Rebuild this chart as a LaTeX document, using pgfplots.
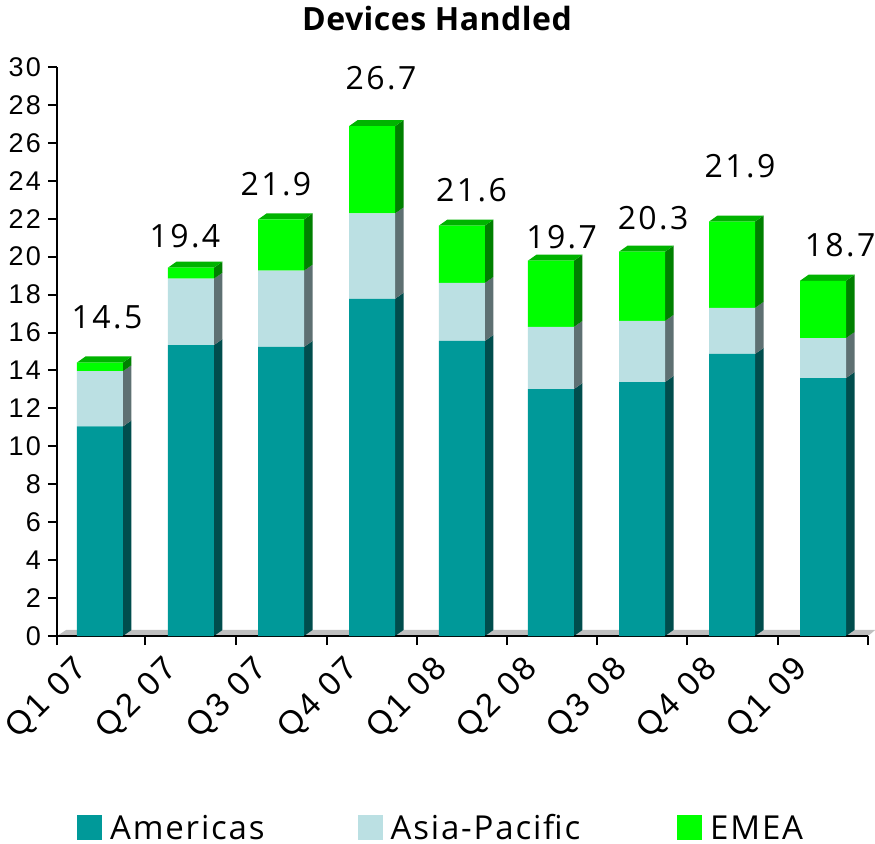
\documentclass[border=0pt]{standalone}
\usepackage{pgfplots}
\usepackage{pgfplotstable}
\usepackage{fontspec}
\pgfplotsset{compat=1.18}
\setmainfont[LetterSpace=8]{Liberation Sans}
\newfontfamily\lab[LetterSpace=7.5]{Open Sans}
\newfontfamily\ttl[LetterSpace=1.5]{Open Sans}
\newfontfamily\leg[LetterSpace=5.5]{Open Sans}
\definecolor{amf}{HTML}{009999}\definecolor{ams}{HTML}{004D4D}
\definecolor{apf}{HTML}{BBE0E3}\definecolor{aps}{HTML}{5E7072}
\definecolor{emf}{HTML}{00FF00}\definecolor{ems}{HTML}{008000}\definecolor{emt}{HTML}{00B300}
\tikzset{dl/.style={font=\lab\fontsize{32bp}{32bp}\selectfont}}
\pgfplotstableread{
x     am    ap   em
0.477 11.05 2.91 0.46
1.487 15.34 3.50 0.58
2.486 15.24 4.02 2.70
3.496 17.78 4.50 4.60
4.494 15.56 3.06 3.02
5.482 13.02 3.28 3.49
6.492 13.39 3.22 3.65
7.491 14.87 2.43 4.55
8.501 13.60 2.11 3.02
}\devices
\pgfplotsset{base/.style={
  at={(57bp,-636bp)},anchor=south west,scale only axis,
  width=811bp,height=569bp,xmin=0,xmax=9,ymin=0,ymax=30,clip=false},
  swatch/.style={legend image code/.code={\fill[##1,draw=none] (0bp,-12.5bp) rectangle (25bp,12.5bp);}}}
% side face of a segment: centre, low, high, colour
\newcommand\sideface[4]{%
  \pgfmathsetmacro\xr{#1+0.2553}\pgfmathsetmacro\xd{#1+0.2553+0.0943}%
  \pgfmathsetmacro\yl{#2+0.317}\pgfmathsetmacro\yh{#3+0.317}%
  \addplot[fill=#4,draw=none] coordinates {(\xr,#2)(\xd,\yl)(\xd,\yh)(\xr,#3)} --cycle;}
\newcommand\topface[3]{%
  \pgfmathsetmacro\xl{#1-0.2553}\pgfmathsetmacro\xr{#1+0.2553}%
  \pgfmathsetmacro\xe{#1-0.2553+0.0943}\pgfmathsetmacro\xd{#1+0.2553+0.0943}%
  \pgfmathsetmacro\yh{#2+0.317}%
  \addplot[fill=#3,draw=none] coordinates {(\xl,#2)(\xe,\yh)(\xd,\yh)(\xr,#2)} --cycle;}
\newcommand\barfaces[4]{\sideface{#1}{0}{#2}{ams}\sideface{#1}{#2}{#3}{aps}\sideface{#1}{#3}{#4}{ems}\topface{#1}{#4}{emt}}
\begin{document}
\begin{tikzpicture}
\path[use as bounding box] (0,0) rectangle (875bp,-844bp);
\begin{axis}[base,hide axis]
\addplot[fill=black!25,draw=none] coordinates {(0,0)(0.1,0.317)(9.08,0.317)(9,0)} --cycle;
\barfaces{0.477}{11.05}{13.96}{14.42}
\barfaces{1.487}{15.34}{18.84}{19.42}
\barfaces{2.486}{15.24}{19.26}{21.96}
\barfaces{3.496}{17.78}{22.28}{26.88}
\barfaces{4.494}{15.56}{18.62}{21.64}
\barfaces{5.482}{13.02}{16.30}{19.79}
\barfaces{6.492}{13.39}{16.61}{20.26}
\barfaces{7.491}{14.87}{17.30}{21.85}
\barfaces{8.501}{13.60}{15.71}{18.73}
\end{axis}
\begin{axis}[base,
  ybar stacked,bar width=46bp,
  axis lines=left,axis line style={-,line width=2bp,black},
  tick style={line width=2bp,black},
  major tick length=9bp,
  tick align=outside,
  xtick={0,0.976,1.981,2.991,3.99,4.994,5.993,6.992,8.0,9},
  xticklabels={},
  extra x ticks={0.25,1.25,2.25,3.26,4.25,5.25,6.25,7.25,8.25},
  extra x tick labels={Q1 07,Q2 07,Q3 07,Q4 07,Q1 08,Q2 08,Q3 08,Q4 08,Q1 09},
  extra x tick style={major tick length=0pt,
    tick label style={rotate=45,anchor=north east,inner sep=0pt,yshift=-7bp,xshift=-18bp,font=\fontsize{33bp}{33bp}\selectfont}},
  ytick={0,2,...,30},
  yticklabel style={font=\fontsize{27bp}{27bp}\selectfont,inner sep=0pt,xshift=-7bp},
  /pgf/number format/assume math mode=true,
  legend columns=3,
  legend style={at={(0.0247,-0.31)},anchor=north west,draw=none,fill=none,inner sep=0pt,
    font=\leg\fontsize{33bp}{33bp}\selectfont,
    /tikz/column 1/.style={column sep=6bp},
    /tikz/column 2/.style={column sep=91bp},
    /tikz/column 3/.style={column sep=6bp},
    /tikz/column 4/.style={column sep=95bp},
    /tikz/column 5/.style={column sep=6bp}},
  legend cell align=left,
]
\addplot[fill=amf,draw=none,swatch] table[x=x,y=am] {\devices};
\addplot[fill=apf,draw=none,swatch] table[x=x,y=ap] {\devices};
\addplot[fill=emf,draw=none,swatch] table[x=x,y=em] {\devices};
\legend{Americas,Asia-Pacific,EMEA}
\node[dl] at (axis cs:0.555,16.8) {14.5};
\node[dl] at (axis cs:1.42,21.1) {19.4};
\node[dl] at (axis cs:2.43,23.85) {21.9};
\node[dl] at (axis cs:3.596,29.4) {26.7};
\node[dl] at (axis cs:4.6,23.5) {21.6};
\node[dl] at (axis cs:5.6,21.05) {19.7};
\node[dl] at (axis cs:6.615,22.05) {20.3};
\node[dl] at (axis cs:7.58,24.75) {21.9};
\node[dl] at (axis cs:8.69,20.6) {18.7};
\end{axis}
\node[font=\ttl\bfseries\fontsize{32bp}{32bp}\selectfont] at (437bp,-18bp) {Devices Handled};
\end{tikzpicture}
\end{document}
